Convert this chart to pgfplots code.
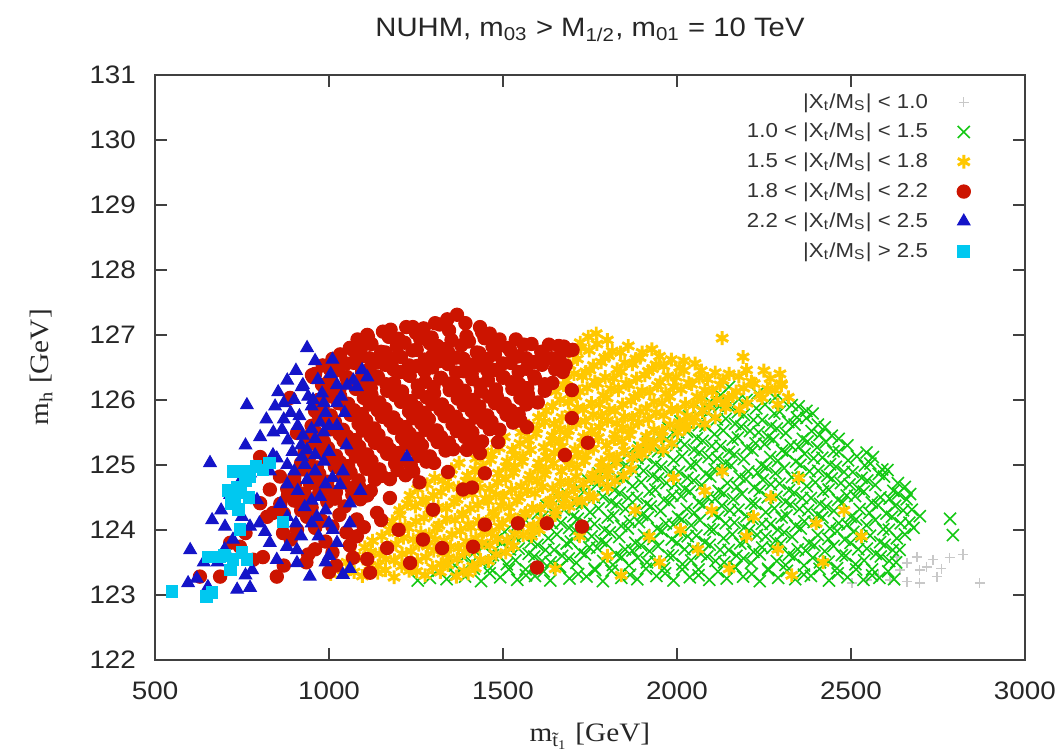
\documentclass[border=0pt]{standalone}
\usepackage{fontspec}
\setmainfont{Liberation Sans}[FakeStretch=1.1]
\newfontfamily\axisserif{Liberation Serif}[FakeStretch=1.1]
\usepackage{pgfplots}
\pgfplotsset{compat=1.18}
\definecolor{cgray}{RGB}{200,200,200}
\definecolor{cgreen}{RGB}{20,200,20}
\definecolor{cyellow}{RGB}{255,200,0}
\definecolor{cred}{RGB}{204,20,0}
\definecolor{cblue}{RGB}{20,20,200}
\definecolor{ccyan}{RGB}{0,200,240}
\newcommand{\XM}{|X\textsubscript{t}/M\textsubscript{S}|}
\begin{document}
\begin{tikzpicture}
\path[use as bounding box] (-58.3pt,-35pt) rectangle (341.8pt,248.1pt);
\begin{axis}[
 at={(0,0)}, anchor=south west,
 scale only axis, width=327.1pt, height=219.9pt,
 xmin=500, xmax=3000, ymin=122, ymax=131,
 xtick={500,1000,...,3000}, ytick={122,...,131},
 minor tick num=0,
 tick align=inside, major tick length=4.5pt,
 tick style={black!75, line width=0.8pt},
 axis line style={black!75, line width=0.8pt},
 /pgf/number format/assume math mode=true,
 /pgf/number format/1000 sep={},
 ticklabel style={font=\fontsize{9.5}{11}\selectfont, text=black!85},
 xticklabel style={anchor=base, yshift=-15pt},
 yticklabel style={anchor=east, inner sep=0pt, xshift=-7pt},
 xlabel={\axisserif m\textsubscript{\~{t}\textsubscript{1}} [GeV]},
 xlabel style={at={(axis description cs:0.5,-0.14)}, anchor=base, font=\fontsize{10}{12}\selectfont, text=black!85},
 ylabel={\axisserif m\textsubscript{h} [GeV]},
 ylabel style={at={(axis description cs:-0.131,0.5)}, anchor=center, font=\fontsize{10}{12}\selectfont, text=black!85},
 title={NUHM, m\textsubscript{03} > M\textsubscript{1/2}, m\textsubscript{01} = 10 TeV},
 title style={at={(axis description cs:0.5,1)}, anchor=base, yshift=8.3pt, font=\fontsize{10}{12}\selectfont, text=black!85},
 legend style={at={(axis description cs:0.938,0.976)}, anchor=north east, draw=none, fill=none, inner sep=0pt, row sep=1.7pt, font=\fontsize{7.6}{9}\selectfont, text=black!80, nodes={inner sep=1pt, text height=6pt, text depth=1.5pt}, /tikz/every odd column/.append style={column sep=10pt}},
 legend cell align=right, legend plot pos=right,
]
\addplot[only marks, mark=+, mark size=1.9pt, color=cgray, line width=0.5pt] coordinates {
(2632,123.58) (2661,123.49) (2690,123.58) (2698,123.38) (2736,123.54) (2784,123.57) (2822,123.62) (2870,123.18) (2747,123.28) (2698,123.18) (2661,123.20) (2612,123.23) (2503,123.18) (2546,123.23) (2641,123.38) (2718,123.43) (2580,123.30) (2760,123.40)
};
\addlegendentry{\XM{} < 1.0}
\addplot[only marks, mark=x, mark size=3.2pt, color=cgreen, line width=0.6pt] coordinates {
(1255,123.22) (1290,123.26) (1338,123.24) (1391,123.28) (1437,123.21) (1492,123.27) (1541,123.23) (1592,123.29) (1636,123.22) (1691,123.25) (1740,123.28) (1787,123.21) (1840,123.26) (1886,123.24) (1941,123.29) (1990,123.22) (2037,123.27) (2093,123.23) (2143,123.25) (2190,123.28) (2238,123.21) (2291,123.26) (2340,123.24) (2385,123.29) (2437,123.22) (2490,123.27) (2536,123.23) (2582,123.26) (2624,123.24)
(1315,123.37) (1363,123.31) (1416,123.40) (1462,123.33) (1517,123.39) (1566,123.30) (1617,123.36) (1661,123.42) (1716,123.32) (1765,123.38) (1812,123.37) (1865,123.31) (1911,123.40) (1966,123.33) (2015,123.39) (2062,123.30) (2118,123.36) (2168,123.42) (2215,123.32) (2263,123.38) (2316,123.37) (2365,123.31) (2410,123.40) (2462,123.33) (2515,123.39) (2561,123.30) (2607,123.36)
(1362,123.45) (1410,123.50) (1463,123.41) (1511,123.47) (1565,123.39) (1612,123.52) (1664,123.43) (1711,123.49) (1763,123.40) (1816,123.46) (1862,123.45) (1914,123.50) (1963,123.41) (2016,123.47) (2062,123.39) (2111,123.52) (2166,123.43) (2213,123.49) (2262,123.40) (2312,123.46) (2365,123.45) (2411,123.50) (2460,123.41) (2513,123.47) (2561,123.39) (2610,123.52)
(1387,123.57) (1435,123.51) (1488,123.60) (1536,123.53) (1590,123.59) (1637,123.50) (1689,123.56) (1736,123.62) (1788,123.52) (1841,123.58) (1887,123.57) (1939,123.51) (1988,123.60) (2041,123.53) (2087,123.59) (2136,123.50) (2191,123.56) (2238,123.62) (2287,123.52) (2337,123.58) (2390,123.57) (2436,123.51) (2485,123.60) (2538,123.53) (2586,123.59) (2630,123.50)
(1420,123.67) (1471,123.61) (1520,123.70) (1574,123.63) (1622,123.69) (1670,123.60) (1723,123.66) (1771,123.72) (1826,123.62) (1872,123.68) (1921,123.67) (1975,123.61) (2022,123.70) (2069,123.63) (2124,123.69) (2171,123.60) (2220,123.66) (2274,123.72) (2322,123.62) (2370,123.68) (2425,123.67) (2474,123.61) (2521,123.70) (2572,123.63) (2620,123.69)
(1445,123.75) (1496,123.80) (1545,123.71) (1599,123.77) (1647,123.69) (1695,123.82) (1748,123.73) (1796,123.79) (1851,123.70) (1897,123.76) (1946,123.75) (2000,123.80) (2047,123.71) (2094,123.77) (2149,123.69) (2196,123.82) (2245,123.73) (2299,123.79) (2347,123.70) (2395,123.76) (2450,123.75) (2499,123.80) (2546,123.71) (2597,123.77) (2640,123.69)
(1480,123.85) (1533,123.90) (1580,123.81) (1630,123.87) (1683,123.79) (1730,123.92) (1782,123.83) (1834,123.89) (1880,123.80) (1932,123.86) (1985,123.85) (2031,123.90) (2080,123.81) (2134,123.87) (2182,123.79) (2230,123.92) (2283,123.83) (2331,123.89) (2380,123.80) (2435,123.86) (2482,123.85) (2530,123.90) (2584,123.81) (2632,123.87) (2793,123.92)
(1505,123.97) (1558,123.91) (1605,124.00) (1655,123.93) (1708,123.99) (1755,123.90) (1807,123.96) (1859,124.02) (1905,123.92) (1957,123.98) (2010,123.97) (2056,123.91) (2105,124.00) (2159,123.93) (2207,123.99) (2255,123.90) (2308,123.96) (2356,124.02) (2405,123.92) (2460,123.98) (2507,123.97) (2555,123.91) (2609,124.00) (2655,123.93)
(1540,124.07) (1588,124.01) (1641,124.10) (1690,124.03) (1738,124.09) (1792,124.00) (1840,124.06) (1891,124.12) (1943,124.02) (1990,124.08) (2041,124.07) (2094,124.01) (2140,124.10) (2192,124.03) (2244,124.09) (2290,124.00) (2341,124.06) (2393,124.12) (2440,124.02) (2490,124.08) (2545,124.07) (2593,124.01) (2643,124.10) (2680,124.03)
(1565,124.15) (1613,124.20) (1666,124.11) (1715,124.17) (1763,124.09) (1817,124.22) (1865,124.13) (1916,124.19) (1968,124.10) (2015,124.16) (2066,124.15) (2119,124.20) (2165,124.11) (2217,124.17) (2269,124.09) (2315,124.22) (2366,124.13) (2418,124.19) (2465,124.10) (2515,124.16) (2570,124.15) (2618,124.20) (2668,124.11)
(1600,124.25) (1650,124.30) (1702,124.21) (1750,124.27) (1801,124.19) (1852,124.32) (1900,124.23) (1953,124.29) (2003,124.20) (2050,124.26) (2104,124.25) (2152,124.30) (2200,124.21) (2255,124.27) (2301,124.19) (2352,124.32) (2404,124.23) (2451,124.29) (2500,124.20) (2553,124.26) (2602,124.25) (2650,124.30) (2698,124.21) (2785,124.17)
(1625,124.37) (1675,124.31) (1727,124.40) (1775,124.33) (1826,124.39) (1877,124.30) (1925,124.36) (1978,124.42) (2028,124.32) (2075,124.38) (2129,124.37) (2177,124.31) (2225,124.40) (2280,124.33) (2326,124.39) (2377,124.30) (2429,124.36) (2476,124.42) (2525,124.32) (2578,124.38) (2627,124.37) (2675,124.31)
(1660,124.47) (1710,124.41) (1762,124.50) (1811,124.43) (1860,124.49) (1913,124.40) (1962,124.46) (2012,124.52) (2063,124.42) (2110,124.48) (2162,124.47) (2213,124.41) (2261,124.50) (2312,124.43) (2360,124.49) (2411,124.40) (2463,124.46) (2512,124.52) (2560,124.42) (2611,124.48) (2660,124.47)
(1685,124.55) (1735,124.60) (1787,124.51) (1836,124.57) (1885,124.49) (1938,124.62) (1987,124.53) (2037,124.59) (2088,124.50) (2135,124.56) (2187,124.55) (2238,124.60) (2286,124.51) (2337,124.57) (2385,124.49) (2436,124.62) (2488,124.53) (2537,124.59) (2585,124.50) (2636,124.56) (2670,124.55)
(1718,124.65) (1770,124.70) (1820,124.61) (1872,124.67) (1921,124.59) (1970,124.72) (2023,124.63) (2071,124.69) (2120,124.60) (2173,124.66) (2222,124.65) (2270,124.70) (2322,124.61) (2373,124.67) (2420,124.59) (2471,124.72) (2522,124.63) (2570,124.69) (2622,124.60) (2655,124.66)
(1743,124.77) (1795,124.71) (1845,124.80) (1897,124.73) (1946,124.79) (1995,124.70) (2048,124.76) (2096,124.82) (2145,124.72) (2198,124.78) (2247,124.77) (2295,124.71) (2347,124.80) (2398,124.73) (2445,124.79) (2496,124.70) (2547,124.76) (2595,124.82) (2635,124.72)
(1775,124.87) (1828,124.81) (1879,124.90) (1930,124.83) (1981,124.89) (2030,124.80) (2083,124.86) (2131,124.92) (2180,124.82) (2232,124.88) (2283,124.87) (2330,124.81) (2381,124.90) (2432,124.83) (2480,124.89) (2531,124.80) (2580,124.86) (2605,124.92)
(1800,124.95) (1853,125.00) (1904,124.91) (1955,124.97) (2006,124.89) (2055,125.02) (2108,124.93) (2156,124.99) (2205,124.90) (2257,124.96) (2308,124.95) (2355,125.00) (2406,124.91) (2457,124.97) (2505,124.89) (2556,125.02) (2590,124.93)
(1835,125.05) (1887,125.10) (1938,125.01) (1990,125.07) (2040,124.99) (2091,125.12) (2140,125.03) (2192,125.09) (2243,125.00) (2290,125.06) (2342,125.05) (2393,125.10) (2440,125.01) (2492,125.07) (2540,124.99) (2563,125.12)
(1860,125.17) (1912,125.11) (1963,125.20) (2015,125.13) (2065,125.19) (2116,125.10) (2165,125.16) (2217,125.22) (2268,125.12) (2315,125.18) (2367,125.17) (2418,125.11) (2465,125.20) (2517,125.13) (2545,125.19)
(1892,125.27) (1946,125.21) (1997,125.30) (2049,125.23) (2100,125.29) (2150,125.20) (2201,125.26) (2252,125.32) (2302,125.22) (2350,125.28) (2403,125.27) (2450,125.21) (2490,125.30)
(1917,125.35) (1971,125.40) (2022,125.31) (2074,125.37) (2125,125.29) (2175,125.42) (2226,125.33) (2277,125.39) (2327,125.30) (2375,125.36) (2428,125.35) (2465,125.40)
(1950,125.45) (2004,125.50) (2057,125.41) (2108,125.47) (2160,125.39) (2210,125.52) (2262,125.43) (2313,125.49) (2362,125.40) (2410,125.46) (2445,125.45)
(1975,125.57) (2029,125.51) (2082,125.60) (2133,125.53) (2185,125.59) (2235,125.50) (2287,125.56) (2338,125.62) (2387,125.52) (2425,125.58)
(2010,125.67) (2063,125.61) (2115,125.70) (2167,125.63) (2220,125.69) (2270,125.60) (2320,125.66) (2372,125.72) (2405,125.62)
(2035,125.75) (2088,125.80) (2140,125.71) (2192,125.77) (2245,125.69) (2295,125.82) (2345,125.73) (2390,125.79)
(2070,125.85) (2122,125.90) (2175,125.81) (2228,125.87) (2280,125.79) (2330,125.92) (2372,125.83)
(2095,125.97) (2147,125.91) (2200,126.00) (2253,125.93) (2305,125.99) (2350,125.90)
(2125,126.07) (2178,126.01) (2232,126.10) (2282,126.03) (2150,126.20)
};
\addlegendentry{1.0 < \XM{} < 1.5}
\addplot[only marks, mark=asterisk, mark size=2.6pt, color=cyellow, line width=1.1pt] coordinates {
(1005,123.32) (1050,123.36) (1096,123.29) (1140,123.34) (1187,123.27) (1230,123.37) (1276,123.30) (1320,123.35) (1366,123.28) (1400,123.33)
(1027,123.43) (1072,123.35) (1118,123.45) (1162,123.38) (1209,123.44) (1252,123.36) (1298,123.42) (1342,123.46) (1388,123.37) (1420,123.41)
(1052,123.50) (1098,123.56) (1141,123.45) (1188,123.53) (1232,123.43) (1279,123.58) (1322,123.47) (1368,123.55) (1413,123.44) (1458,123.52)
(1074,123.60) (1120,123.66) (1163,123.55) (1210,123.63) (1254,123.53) (1301,123.68) (1344,123.57) (1390,123.65) (1435,123.54) (1480,123.62)
(1103,123.73) (1146,123.63) (1192,123.78) (1236,123.67) (1283,123.75) (1327,123.64) (1372,123.72) (1418,123.70) (1462,123.76) (1508,123.65)
(1125,123.83) (1168,123.73) (1214,123.88) (1258,123.77) (1305,123.85) (1349,123.74) (1394,123.82) (1440,123.80) (1484,123.86) (1530,123.75)
(1152,123.90) (1197,123.96) (1242,123.85) (1288,123.93) (1331,123.83) (1378,123.98) (1422,123.87) (1467,123.95) (1512,123.84) (1558,123.92) (1582,123.90)
(1174,124.00) (1219,124.06) (1264,123.95) (1310,124.03) (1353,123.93) (1400,124.08) (1444,123.97) (1489,124.05) (1534,123.94) (1580,124.02) (1604,124.00)
(1182,124.13) (1228,124.03) (1273,124.18) (1316,124.07) (1362,124.15) (1408,124.04) (1452,124.12) (1499,124.10) (1543,124.16) (1588,124.05) (1628,124.13)
(1204,124.23) (1250,124.13) (1295,124.28) (1338,124.17) (1384,124.25) (1430,124.14) (1474,124.22) (1521,124.20) (1565,124.26) (1610,124.15) (1650,124.23)
(1203,124.30) (1248,124.36) (1292,124.25) (1338,124.33) (1384,124.23) (1428,124.38) (1472,124.27) (1518,124.35) (1563,124.24) (1608,124.32) (1652,124.30) (1690,124.36)
(1225,124.40) (1270,124.46) (1314,124.35) (1360,124.43) (1406,124.33) (1450,124.48) (1494,124.37) (1540,124.45) (1585,124.34) (1630,124.42) (1674,124.40) (1712,124.46)
(1233,124.53) (1278,124.43) (1322,124.58) (1368,124.47) (1412,124.55) (1458,124.44) (1502,124.52) (1548,124.50) (1592,124.56) (1637,124.45) (1683,124.53) (1727,124.43)
(1255,124.63) (1300,124.53) (1344,124.68) (1390,124.57) (1434,124.65) (1480,124.54) (1524,124.62) (1570,124.60) (1614,124.66) (1659,124.55) (1705,124.63) (1749,124.53)
(1282,124.70) (1327,124.76) (1372,124.65) (1418,124.73) (1462,124.63) (1508,124.78) (1552,124.67) (1598,124.75) (1643,124.64) (1688,124.72) (1732,124.70) (1778,124.76) (1800,124.65)
(1304,124.80) (1349,124.86) (1394,124.75) (1440,124.83) (1484,124.73) (1530,124.88) (1574,124.77) (1620,124.85) (1665,124.74) (1710,124.82) (1754,124.80) (1800,124.86) (1822,124.75)
(1352,124.93) (1398,124.83) (1442,124.98) (1487,124.87) (1533,124.95) (1578,124.84) (1623,124.92) (1668,124.90) (1712,124.96) (1758,124.85) (1803,124.93) (1846,124.83)
(1374,125.03) (1420,124.93) (1464,125.08) (1509,124.97) (1555,125.05) (1600,124.94) (1645,125.02) (1690,125.00) (1734,125.06) (1780,124.95) (1825,125.03) (1868,124.93)
(1422,125.10) (1467,125.16) (1512,125.05) (1557,125.13) (1603,125.03) (1648,125.18) (1692,125.07) (1738,125.15) (1783,125.04) (1827,125.12) (1872,125.10) (1900,125.16)
(1444,125.20) (1489,125.26) (1534,125.15) (1579,125.23) (1625,125.13) (1670,125.28) (1714,125.17) (1760,125.25) (1805,125.14) (1849,125.22) (1894,125.20) (1922,125.26)
(1482,125.33) (1527,125.23) (1573,125.38) (1618,125.27) (1662,125.35) (1707,125.24) (1752,125.32) (1798,125.30) (1842,125.36) (1887,125.25) (1933,125.33) (1960,125.23)
(1504,125.43) (1549,125.33) (1595,125.48) (1640,125.37) (1684,125.45) (1729,125.34) (1774,125.42) (1820,125.40) (1864,125.46) (1909,125.35) (1955,125.43) (1985,125.33)
(1552,125.50) (1597,125.56) (1642,125.45) (1688,125.53) (1732,125.43) (1778,125.58) (1822,125.47) (1868,125.55) (1912,125.44) (1958,125.52) (2002,125.50) (2022,125.56)
(1574,125.60) (1619,125.66) (1664,125.55) (1710,125.63) (1754,125.53) (1800,125.68) (1844,125.57) (1890,125.65) (1934,125.54) (1980,125.62) (2024,125.60) (2048,125.66)
(1602,125.73) (1648,125.63) (1692,125.78) (1737,125.67) (1783,125.75) (1827,125.64) (1872,125.72) (1918,125.70) (1962,125.76) (2007,125.65) (2052,125.73) (2080,125.63)
(1624,125.83) (1670,125.73) (1714,125.88) (1759,125.77) (1805,125.85) (1849,125.74) (1894,125.82) (1940,125.80) (1984,125.86) (2029,125.75) (2074,125.83) (2110,125.73) (2140,125.88)
(1642,125.90) (1688,125.96) (1732,125.85) (1777,125.93) (1822,125.83) (1868,125.98) (1912,125.87) (1957,125.95) (2002,125.84) (2048,125.92) (2092,125.90) (2138,125.96) (2180,125.85)
(1664,126.00) (1710,126.06) (1754,125.95) (1799,126.03) (1844,125.93) (1890,126.08) (1934,125.97) (1979,126.05) (2024,125.94) (2070,126.02) (2114,126.00) (2160,126.06) (2202,125.95) (2245,126.03) (2290,125.93)
(1652,126.13) (1698,126.03) (1742,126.18) (1788,126.07) (1832,126.15) (1878,126.04) (1922,126.12) (1968,126.10) (2012,126.16) (2058,126.05) (2102,126.13) (2148,126.03) (2192,126.18) (2238,126.07) (2282,126.15) (2320,126.04)
(1674,126.23) (1720,126.13) (1764,126.28) (1810,126.17) (1854,126.25) (1900,126.14) (1944,126.22) (1990,126.20) (2034,126.26) (2080,126.15) (2124,126.23) (2170,126.13) (2214,126.28) (2260,126.17) (2300,126.25)
(1682,126.30) (1728,126.36) (1772,126.25) (1818,126.33) (1862,126.23) (1908,126.38) (1952,126.27) (1998,126.35) (2042,126.24) (2088,126.32) (2132,126.30) (2178,126.36) (2222,126.25) (2268,126.33) (2300,126.23)
(1704,126.40) (1750,126.46) (1794,126.35) (1840,126.43) (1884,126.33) (1930,126.48) (1974,126.37) (2020,126.45) (2064,126.34) (2110,126.42) (2150,126.40) (2200,126.46)
(1692,126.53) (1738,126.43) (1782,126.58) (1828,126.47) (1872,126.55) (1918,126.44) (1962,126.52) (2008,126.50) (2052,126.56) (2070,126.45)
(1714,126.63) (1760,126.53) (1804,126.68) (1850,126.57) (1894,126.65) (1940,126.54) (1984,126.62) (2020,126.60)
(1702,126.70) (1748,126.76) (1792,126.65) (1838,126.73) (1882,126.63) (1928,126.78) (1950,126.67)
(1724,126.80) (1770,126.86) (1814,126.75) (1860,126.83) (1900,126.73)
(1722,126.88) (1768,127.02) (1800,126.92) (1745,126.97)
(2130,126.95) (2190,126.66) (2296,126.40) (2250,126.45)
(1650,123.40) (1720,123.90) (1800,123.60) (1880,124.30) (1950,123.50) (2010,124.00) (2080,124.60) (2150,123.40) (2220,124.20) (2290,123.70) (2350,124.80) (2420,123.50) (2480,124.30) (1760,124.50) (1840,123.30) (1990,124.80) (2060,123.70) (2130,124.90) (2200,123.90) (2270,124.50) (2330,123.30) (2400,124.10) (2530,123.90) (1920,123.90) (2100,124.30)
};
\addlegendentry{1.5 < \XM{} < 1.8}
\addplot[only marks, mark=*, mark size=2.5pt, color=cred] coordinates {
(1241,127.12) (1305,127.18) (1368,127.31) (1434,127.12)
(1177,127.08) (1222,127.12) (1272,127.10) (1318,127.16) (1340,127.24) (1392,127.18) (1462,127.02)
(1110,127.00) (1155,127.05) (1200,126.94) (1250,127.03) (1295,126.96) (1345,127.07) (1395,126.98) (1440,127.04) (1490,126.93)
(1082,126.93) (1122,126.86) (1172,126.97) (1217,126.88) (1262,126.94) (1312,126.83) (1352,126.92) (1402,126.90) (1447,126.95) (1492,126.84) (1537,126.93) (1582,126.86) (1632,126.85) (1675,126.82)
(1060,126.80) (1100,126.85) (1150,126.74) (1195,126.83) (1240,126.76) (1290,126.87) (1330,126.78) (1380,126.84) (1425,126.73) (1470,126.82) (1515,126.80) (1560,126.85) (1610,126.74) (1660,126.83) (1690,126.76)
(1032,126.70) (1072,126.75) (1117,126.64) (1162,126.73) (1207,126.66) (1252,126.77) (1297,126.68) (1342,126.74) (1387,126.63) (1432,126.72) (1477,126.70) (1522,126.75) (1567,126.64) (1612,126.73) (1662,126.66) (1700,126.77)
(1010,126.63) (1050,126.56) (1095,126.67) (1140,126.58) (1185,126.64) (1230,126.53) (1275,126.62) (1320,126.60) (1365,126.65) (1410,126.54) (1455,126.63) (1500,126.56) (1545,126.67) (1590,126.58) (1640,126.64) (1680,126.53)
(982,126.53) (1027,126.46) (1072,126.57) (1117,126.48) (1162,126.54) (1207,126.43) (1252,126.52) (1297,126.50) (1342,126.55) (1387,126.44) (1432,126.53) (1477,126.46) (1522,126.57) (1567,126.48) (1612,126.54) (1672,126.43)
(960,126.40) (1005,126.45) (1050,126.34) (1095,126.43) (1140,126.36) (1185,126.47) (1230,126.38) (1275,126.44) (1320,126.33) (1365,126.42) (1410,126.40) (1455,126.45) (1500,126.34) (1545,126.43) (1590,126.36) (1650,126.47)
(1002,126.30) (1052,126.35) (1097,126.24) (1142,126.33) (1187,126.26) (1232,126.37) (1277,126.28) (1322,126.34) (1367,126.23) (1412,126.32) (1457,126.30) (1502,126.35) (1547,126.24) (1592,126.33) (1642,126.26)
(980,126.23) (1030,126.16) (1075,126.27) (1120,126.18) (1165,126.24) (1210,126.13) (1255,126.22) (1300,126.20) (1345,126.25) (1390,126.14) (1435,126.23) (1480,126.16) (1525,126.27) (1570,126.18) (1620,126.24) (1698,126.15)
(992,126.13) (1032,126.06) (1077,126.17) (1122,126.08) (1167,126.14) (1212,126.03) (1257,126.12) (1302,126.10) (1347,126.15) (1392,126.04) (1437,126.13) (1482,126.06) (1527,126.17) (1572,126.08) (1620,126.14)
(970,126.00) (1010,126.05) (1055,125.94) (1100,126.03) (1145,125.96) (1190,126.07) (1235,125.98) (1280,126.04) (1325,125.93) (1370,126.02) (1415,126.00) (1460,126.05) (1505,125.94) (1550,126.03) (1600,125.96)
(982,125.90) (1027,125.95) (1072,125.84) (1117,125.93) (1162,125.86) (1207,125.97) (1252,125.88) (1297,125.94) (1342,125.83) (1387,125.92) (1432,125.90) (1477,125.95) (1522,125.84) (1567,125.93)
(960,125.83) (1005,125.76) (1050,125.87) (1095,125.78) (1140,125.84) (1185,125.73) (1230,125.82) (1275,125.80) (1320,125.85) (1365,125.74) (1410,125.83) (1455,125.76) (1500,125.87) (1545,125.78) (1698,125.72)
(972,125.73) (1017,125.66) (1062,125.77) (1107,125.68) (1152,125.74) (1197,125.63) (1242,125.72) (1287,125.70) (1332,125.75) (1377,125.64) (1422,125.73) (1467,125.66) (1510,125.77) (1550,125.68)
(950,125.60) (995,125.65) (1040,125.54) (1085,125.63) (1130,125.56) (1175,125.67) (1220,125.58) (1265,125.64) (1310,125.53) (1355,125.62) (1400,125.60) (1445,125.65) (1490,125.54) (1529,125.65) (1569,125.58)
(962,125.50) (1007,125.55) (1052,125.44) (1097,125.53) (1142,125.46) (1187,125.57) (1232,125.48) (1277,125.54) (1322,125.43) (1367,125.52) (1412,125.50) (1462,125.55)
(940,125.43) (985,125.36) (1030,125.47) (1075,125.38) (1120,125.44) (1165,125.33) (1210,125.42) (1255,125.40) (1300,125.45) (1345,125.34) (1390,125.43) (1440,125.36) (1486,125.35) (1744,125.34)
(952,125.33) (997,125.26) (1042,125.37) (1087,125.28) (1132,125.34) (1177,125.23) (1222,125.32) (1267,125.30) (1312,125.35) (1357,125.24) (1416,125.33)
(930,125.20) (975,125.25) (1020,125.14) (1065,125.23) (1110,125.16) (1155,125.27) (1200,125.18) (1245,125.24) (1290,125.13) (1335,125.22) (1396,125.23) (1434,125.18) (1678,125.15)
(942,125.10) (987,125.15) (1032,125.04) (1077,125.13) (1122,125.06) (1167,125.17) (1212,125.08) (1257,125.14) (1302,125.03)
(920,125.03) (965,124.96) (1010,125.07) (1055,124.98) (1100,125.04) (1145,124.93) (1190,125.02) (1235,125.00) (1280,125.05) (1342,124.89)
(922,124.93) (972,124.86) (1017,124.97) (1062,124.88) (1107,124.94) (1152,124.83) (1197,124.92) (1242,124.90)
(900,124.80) (950,124.85) (995,124.74) (1040,124.83) (1085,124.76) (1130,124.87) (1175,124.78) (1220,124.84) (1260,124.73) (1448,124.87)
(902,124.70) (952,124.75) (997,124.64) (1042,124.73) (1087,124.66) (1132,124.77)
(880,124.63) (930,124.56) (975,124.67) (1020,124.58) (1065,124.64) (1110,124.53) (1175,124.49) (1385,124.62) (1411,124.65)
(882,124.53) (925,124.46) (972,124.57) (1017,124.48) (1067,124.54) (1120,124.60)
(860,124.40) (900,124.45) (950,124.34) (995,124.43) (1045,124.36) (1090,124.47) (1138,124.26) (1299,124.31) (920,124.30)
(822,124.20) (870,124.25) (937,124.20) (980,124.14) (1030,124.23) (1080,124.16) (1448,124.08) (1543,124.10) (1626,124.10) (1727,124.05) (1010,124.05) (1150,124.15)
(868,123.95) (908,124.00) (960,124.03) (1050,123.96) (1100,124.04) (1270,123.85) (890,123.85) (1080,123.90) (1200,124.00)
(716,123.80) (744,123.74) (990,123.82) (1060,123.76) (1167,123.72) (1325,123.72) (1414,123.74) (960,123.70) (1010,123.65)
(782,123.54) (810,123.58) (940,123.62) (1069,123.57) (1233,123.49) (1598,123.42) (1020,123.45) (935,123.50) (1110,123.55)
(629,123.28) (687,123.28) (850,123.28) (1000,123.35) (1118,123.34)
(802,125.12) (830,124.62) (954,126.35) (888,126.03) (908,125.49) (839,124.26) (802,124.41) (897,124.57) (945,124.72) (937,124.92) (859,124.82) (1026,126.50) (951,126.38) (1089,126.77) (1112,126.97) (760,123.95) (870,123.45)
};
\addlegendentry{1.8 < \XM{} < 2.2}
\addplot[only marks, mark=triangle*, mark size=2.7pt, color=cblue] coordinates {
(937,126.80) (925,126.23) (968,126.31) (1023,126.23) (1052,126.22) (1095,126.46) (954,126.00) (1023,125.95) (974,125.65) (1023,125.60) (937,125.23) (920,125.30) (1224,125.12) (1032,124.69) (974,124.51) (1060,124.41) (1011,124.00) (1023,123.80) (945,123.28) (1040,123.31)
(764,125.92) (854,126.12) (922,126.20) (845,125.90) (802,125.43) (658,125.03) (865,125.54) (882,125.38) (839,125.15) (773,124.87) (716,124.54) (793,124.46) (664,124.15) (701,124.05) (601,123.69) (724,123.85) (773,124.05) (816,123.97) (879,123.74) (908,123.69) (595,123.18) (652,123.12) (736,123.08) (773,123.11) (779,123.38) (850,123.54) (908,123.49) (922,125.12) (937,124.77)
(890,125.80) (910,125.60) (950,125.90) (870,125.70) (900,126.00) (960,125.40) (990,125.80) (930,125.00) (900,124.90) (960,124.90) (880,124.70) (990,124.30) (950,124.10) (970,123.90) (920,123.90) (1000,125.20) (980,126.10) (1005,126.40) (1070,126.30) (960,126.60) (1000,123.60) (880,124.20) (750,124.20) (700,123.70) (680,123.50) (830,123.80) (860,124.40) (800,124.10) (740,124.70) (760,125.30) (820,125.70) (690,124.30) (640,123.50) (620,123.25) (830,124.90) (850,125.10) (880,126.30) (1080,126.20) (1045,125.80) (1050,125.30) (1010,124.80) (1060,124.10) (1090,124.60) (990,123.50) (1060,123.40) (760,123.30)
(905,126.45) (940,126.05) (985,125.95) (915,125.75) (950,125.55) (985,125.50) (925,125.45) (895,125.20) (960,125.15) (985,125.05) (910,124.60) (950,124.45) (990,124.70) (930,124.35) (965,124.20) (905,124.10) (1000,124.10) (1040,124.90) (1000,125.60) (1035,126.05) (1110,126.35) (870,125.95) (840,125.50) (880,125.00) (1010,126.62)
};
\addlegendentry{2.2 < \XM{} < 2.5}
\addplot[only marks, mark=square*, mark size=2.2pt, color=ccyan] coordinates {
(736,124.66) (745,124.58) (730,124.46) (739,124.31) (810,124.92) (773,124.82) (868,124.12) (744,124.00) (652,123.58) (687,123.58) (724,123.54) (764,123.54) (716,123.38) (664,123.03) (649,122.97) (549,123.05) (830,125.03) (760,124.75) (790,124.98) (720,124.40) (750,123.65) (700,123.60) (725,124.90) (755,124.90) (770,124.50) (710,124.60)
};
\addlegendentry{\XM{} > 2.5}
\end{axis}
\end{tikzpicture}
\end{document}
